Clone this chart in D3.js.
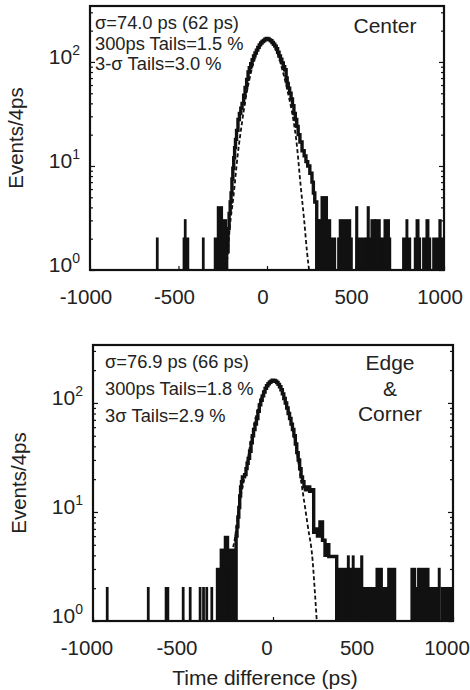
<!DOCTYPE html>
<html>
<head>
<meta charset="utf-8">
<script src="https://cdn.jsdelivr.net/npm/d3@7"></script>
<style>
body { margin: 0; background: #fff; }
svg { display: block; font-family: "Liberation Sans", Arial, Helvetica, sans-serif; }
</style>
</head>
<body>
<svg id="chart" width="470" height="690"></svg>
<script>
var xTicks = [-1000, -500, 0, 500, 1000];
var yDecades = [0, 1, 2];

var centerStats = ["σ=74.0 ps (62 ps)", "300ps Tails=1.5 %", "3-σ Tails=3.0 %"];
var centerLabel = ["Center"];
var edgeStats = ["σ=76.9 ps (66 ps)", "300ps Tails=1.8 %", "3σ Tails=2.9 %"];
var edgeLabel = ["Edge", "&", "Corner"];

// main peak of the histogram: [bin start (ps), events/4ps], last entry = where it drops to the floor
var centerBody = [[-228,1.5],[-220,2.5],[-214,3.5],[-208,4.5],[-203,5.5],[-198,7.5],[-193,9.5],[-188,12],[-183,15],
	[-178,18],[-172,22],[-164,28],[-156,32],[-148,36],[-141,40],[-132,48],[-124,57],[-115,68],[-107,80],[-100,88],
	[-92,96],[-84,105],[-76,114],[-68,122],[-60,130],[-52,138],[-44,146],[-36,152],[-28,157],[-20,161],[-12,165],
	[-4,168],[4,166],[12,163],[20,160],[28,154],[36,148],[44,142],[52,134],[60,124],[68,114],[76,106],[84,98],
	[92,90],[100,84],[108,70],[114,62],[120,56],[128,50],[136,44],[144,38],[152,32],[160,28],[168,24],[176,20],
	[186,17],[198,14],[210,12.5],[220,11],[230,10],[242,8.5],[254,7],[262,5.5],[270,4.5],[281,1]];

// sparse tail bins: [from (ps), to (ps), events/4ps]
var centerTail = [[-621,-619,2],[-470,-446,2],[-463,-461,3],[-361,-359,2],[-294,-281,2],[-277,-255,4],[-252,-232,3],
	[281,292,3],[296,308,3],[309,338,5],[340,356,3],[365,384,2],[403,478,2],[412,469,3],[505,509,4],[507,554,2],
	[563,638,2],[570,574,4],[591,610,3],[615,636,3],[648,695,2],[665,688,3],[770,808,2],[789,792,3],
	[836,864,2],[846,855,3],[883,921,2],[902,911,3],[940,990,2],[975,980,3]];

// gaussian fit (dashed): [ps, events/4ps]
var centerFit = [[-245,0.8],[-226,1.2],[-210,2.6],[-190,5],[-165,13],[-140,27],[-119,46],[-90,80],[-60,120],
	[-30,152],[0,165],[30,152],[60,120],[90,80],[119,50],[150,27],[165,18],[190,6.5],[210,3],[226,1.5],[245,0.8]];

var edgeBody = [[-205,6],[-200,7.3],[-195,9],[-190,11],[-185,14],[-180,17],[-175,19],[-170,21],[-158,22],[-150,25],
	[-144,28],[-138,31],[-130,36],[-122,43],[-115,50],[-108,57],[-100,64],[-92,72],[-84,84],[-76,96],[-68,106],
	[-60,116],[-52,126],[-44,136],[-36,144],[-28,150],[-20,155],[-12,158],[-4,162],[4,161],[12,158],[20,154],
	[28,148],[36,141],[44,132],[52,121],[60,110],[68,100],[76,90],[84,80],[92,72],[100,64],[108,57],[116,50],
	[124,42],[132,35],[140,30],[148,25],[156,21],[164,19],[172,17],[180,16],[192,17],[204,15.5],[214,16],
	[226,6.5],[233,7],[247,6],[261,8.1],[275,5.5],[289,4],[300,5],[310,3.9],[354,1]];

var edgeTail = [[-922,-920,2],[-694,-692,2],[-595,-583,2],[-500,-498,2],[-461,-459,2],[-406,-404,2],[-387,-385,2],
	[-369,-367,2],[-341,-339,2],[-311,-294,3],[-290,-270,4.5],[-267,-250,5.9],[-246,-240,3],[-239,-211,4.5],
	[354,419,3],[417,420,3.9],[428,493,3],[444,447,3.9],[491,495,3.9],[500,567,2],[576,604,3],[604,641,2],
	[641,678,3],[770,789,3],[789,807,2],[807,863,3],[863,919,2],[922,925,3],[937,1000,2]];

var edgeFit = [[-255,0.8],[-244,1.6],[-230,3.6],[-210,6],[-183,12.8],[-150,24],[-120,48],[-90,80],[-60,118],
	[-30,150],[0,160],[30,150],[60,118],[90,80],[120,47],[161,17],[194,7.3],[220,3.6],[233,1.8],[245,0.9]];

var svg = d3.select("#chart");

function drawPanel(id, box, body, tail, fit, stats, label) {
	var x = d3.scaleLinear().domain([-1000, 1000]).range([box.left, box.right]),
			y = d3.scaleLog().domain([1, box.ymax]).range([box.bottom, box.top]);

	var g = svg.append("g").attr("class", "panel " + id);

	g.append("defs").append("clipPath")
			.attr("id", "clip-" + id)
		.append("rect")
			.attr("x", box.left)
			.attr("y", box.top)
			.attr("width", box.right - box.left)
			.attr("height", box.bottom - box.top);

	var plot = g.append("g").attr("clip-path", "url(#clip-" + id + ")");

	function yv(n) { return y(Math.max(n, 1)); }

	// tails
	plot.selectAll("rect.tail")
		.data(tail)
		.enter().append("rect")
			.attr("class", "tail")
			.attr("x", function(d) { return x(d[0]) - 1.2; })
			.attr("width", function(d) { return Math.max(x(d[1]) - x(d[0]), 0) + 2.4; })
			.attr("y", function(d) { return yv(d[2]) - 1.2; })
			.attr("height", function(d) { return box.bottom - yv(d[2]) + 1.2; })
			.attr("fill", "#111");

	// main peak
	var pts = [[body[0][0], 1]].concat(body);
	var step = d3.line()
		.curve(d3.curveStepAfter)
		.x(function(d) { return x(d[0]); })
		.y(function(d) { return yv(d[1]); });

	plot.append("path")
		.datum(pts)
		.attr("d", step)
		.attr("fill", "none")
		.attr("stroke", "#111")
		.attr("stroke-width", 3.4)
		.attr("stroke-linejoin", "miter");

	// fit
	var fitLine = d3.line()
		.curve(d3.curveMonotoneX)
		.x(function(d) { return x(d[0]); })
		.y(function(d) { return y(d[1]); });

	plot.append("path")
		.datum(fit)
		.attr("d", fitLine)
		.attr("fill", "none")
		.attr("stroke", "#111")
		.attr("stroke-width", 1.8)
		.attr("stroke-dasharray", "4,2.5");

	// ticks, pointing inward
	var majors = yDecades.map(function(e) { return Math.pow(10, e); });
	var minors = [];
	yDecades.forEach(function(e) {
		for (var k = 2; k <= 9; k++) {
			var v = k * Math.pow(10, e);
			if (v < box.ymax) minors.push(v);
		}
	});

	[[d3.axisRight, box.left], [d3.axisLeft, box.right]].forEach(function(a) {
		g.append("g")
			.attr("transform", "translate(" + a[1] + ",0)")
			.call(a[0](y).tickValues(majors).tickSize(5).tickFormat(""))
			.call(function(s) { s.select(".domain").remove(); });
		g.append("g")
			.attr("transform", "translate(" + a[1] + ",0)")
			.call(a[0](y).tickValues(minors).tickSize(3).tickFormat(""))
			.call(function(s) { s.select(".domain").remove(); });
	});

	g.append("g")
		.attr("transform", "translate(0," + box.bottom + ")")
		.call(d3.axisTop(x).tickValues(xTicks).tickSize(4).tickFormat(""))
		.call(function(s) { s.select(".domain").remove(); });

	g.selectAll(".tick line").attr("stroke", "#111").attr("stroke-width", 1.2);

	// frame
	g.append("rect")
		.attr("x", box.left)
		.attr("y", box.top)
		.attr("width", box.right - box.left)
		.attr("height", box.bottom - box.top)
		.attr("fill", "none")
		.attr("stroke", "#111")
		.attr("stroke-width", 2.2);

	// tick labels
	g.selectAll("text.xlab")
		.data(xTicks)
		.enter().append("text")
			.attr("class", "xlab")
			.attr("x", function(d) { return x(d) + box.xlabShift; })
			.attr("y", box.bottom + 34)
			.attr("text-anchor", "middle")
			.attr("font-size", 20.5)
			.attr("fill", "#222")
			.text(function(d) { return d; });

	var ylab = g.selectAll("text.ylab")
		.data(yDecades)
		.enter().append("text")
			.attr("class", "ylab")
			.attr("x", box.left - 10)
			.attr("y", function(d) { return y(Math.pow(10, d)) + 2; })
			.attr("text-anchor", "end")
			.attr("font-size", 21)
			.attr("fill", "#222");
	ylab.append("tspan").text("10");
	ylab.append("tspan")
		.attr("dy", -9)
		.attr("font-size", 14)
		.text(function(d) { return d; });

	g.append("text")
		.attr("transform", "translate(" + (box.left - 67) + "," + ((box.top + box.bottom) / 2) + ") rotate(-90)")
		.attr("text-anchor", "middle")
		.attr("font-size", 20.5)
		.attr("fill", "#222")
		.text("Events/4ps");

	g.selectAll("text.stat")
		.data(stats)
		.enter().append("text")
			.attr("class", "stat")
			.attr("x", box.statX)
			.attr("y", function(d, i) { return box.statY + i * box.statGap; })
			.attr("font-size", 18.3)
			.attr("fill", "#222")
			.text(function(d) { return d; });

	g.selectAll("text.lab")
		.data(label)
		.enter().append("text")
			.attr("class", "lab")
			.attr("x", box.labX)
			.attr("y", function(d, i) { return box.labY + i * 25.5; })
			.attr("text-anchor", "middle")
			.attr("font-size", 21)
			.attr("fill", "#222")
			.text(function(d) { return d; });
}

drawPanel("center",
	{left: 90, right: 444, top: 6, bottom: 270, ymax: 345, xlabShift: -4,
		statX: 95, statY: 29, statGap: 20.5, labX: 385, labY: 33},
	centerBody, centerTail, centerFit, centerStats, centerLabel);

drawPanel("edge",
	{left: 93, right: 453, top: 345, bottom: 621, ymax: 340, xlabShift: -6,
		statX: 105, statY: 368, statGap: 27, labX: 390, labY: 370},
	edgeBody, edgeTail, edgeFit, edgeStats, edgeLabel);

svg.append("text")
	.attr("x", 265)
	.attr("y", 685)
	.attr("text-anchor", "middle")
	.attr("font-size", 21)
	.attr("fill", "#222")
	.text("Time difference (ps)");
</script>
</body>
</html>
